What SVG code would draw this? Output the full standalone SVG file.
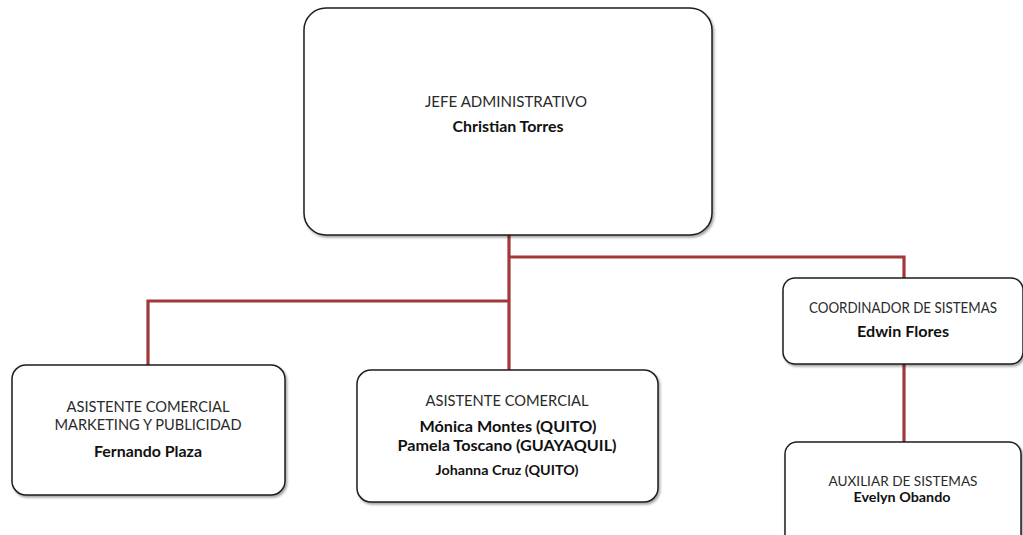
<svg xmlns="http://www.w3.org/2000/svg" width="1023" height="535" viewBox="0 0 1023 535">
  <defs>
    <filter id="shadow" x="-5%" y="-5%" width="110%" height="115%">
      <feDropShadow dx="1.5" dy="2" stdDeviation="1.2" flood-color="#000" flood-opacity="0.35"/>
    </filter>
    <style>
      .box { fill: #ffffff; stroke: #1e1e1e; stroke-width: 1.5; filter: url(#shadow); }
      .wire { fill: none; stroke: #a03a3a; stroke-width: 3.2; stroke-linecap: butt; stroke-linejoin: miter; }
      .role { font-family: Lato, "Liberation Sans", sans-serif; font-size: 14.5px; fill: #2a2a2a; text-anchor: middle; }
      .name { font-family: Lato, "Liberation Sans", sans-serif; font-size: 14.5px; font-weight: bold; fill: #111; text-anchor: middle; }
      .small { font-size: 13px; }
    </style>
  </defs>
  <rect width="1023" height="535" fill="#ffffff"/>

  <!-- organisational lines -->
  <g id="connectors">
    <path class="wire" d="M509 235 V370"/>
    <path class="wire" d="M509 257 H904 V278"/>
    <path class="wire" d="M509 301 H148 V365"/>
    <path class="wire" d="M904 364 V442"/>
  </g>

  <g id="jefe-administrativo">
    <rect class="box" x="304" y="8" width="408" height="227" rx="22"/>
    <text class="role" x="506" y="107" textLength="162" lengthAdjust="spacingAndGlyphs">JEFE ADMINISTRATIVO</text>
    <text class="name" x="508" y="132" textLength="111" lengthAdjust="spacingAndGlyphs">Christian  Torres</text>
  </g>

  <g id="asistente-marketing">
    <rect class="box" x="12" y="365" width="273" height="130" rx="14"/>
    <text class="role" x="148" y="412" textLength="163" lengthAdjust="spacingAndGlyphs">ASISTENTE COMERCIAL</text>
    <text class="role" x="148" y="430" textLength="187" lengthAdjust="spacingAndGlyphs">MARKETING Y PUBLICIDAD</text>
    <text class="name" x="148" y="457" textLength="108" lengthAdjust="spacingAndGlyphs">Fernando Plaza</text>
  </g>

  <g id="asistente-comercial">
    <rect class="box" x="357" y="370" width="301" height="132" rx="14"/>
    <text class="role" x="507" y="406" textLength="163" lengthAdjust="spacingAndGlyphs">ASISTENTE COMERCIAL</text>
    <text class="name" x="508" y="432" textLength="177" lengthAdjust="spacingAndGlyphs">Mónica Montes (QUITO)</text>
    <text class="name" x="507" y="451" textLength="219" lengthAdjust="spacingAndGlyphs">Pamela Toscano (GUAYAQUIL)</text>
    <text class="name small" x="507" y="475" textLength="143" lengthAdjust="spacingAndGlyphs">Johanna Cruz (QUITO)</text>
  </g>

  <g id="coordinador-sistemas">
    <rect class="box" x="783" y="278" width="240" height="86" rx="12"/>
    <text class="role" x="903" y="313" textLength="188" lengthAdjust="spacingAndGlyphs">COORDINADOR DE SISTEMAS</text>
    <text class="name" x="903" y="337" textLength="92" lengthAdjust="spacingAndGlyphs">Edwin Flores</text>
  </g>

  <g id="auxiliar-sistemas">
    <rect class="box" x="785" y="442" width="236" height="110" rx="12"/>
    <text class="role small" x="903" y="486" textLength="149" lengthAdjust="spacingAndGlyphs">AUXILIAR DE SISTEMAS</text>
    <text class="name small" x="902" y="502" textLength="97" lengthAdjust="spacingAndGlyphs">Evelyn Obando</text>
  </g>
</svg>
